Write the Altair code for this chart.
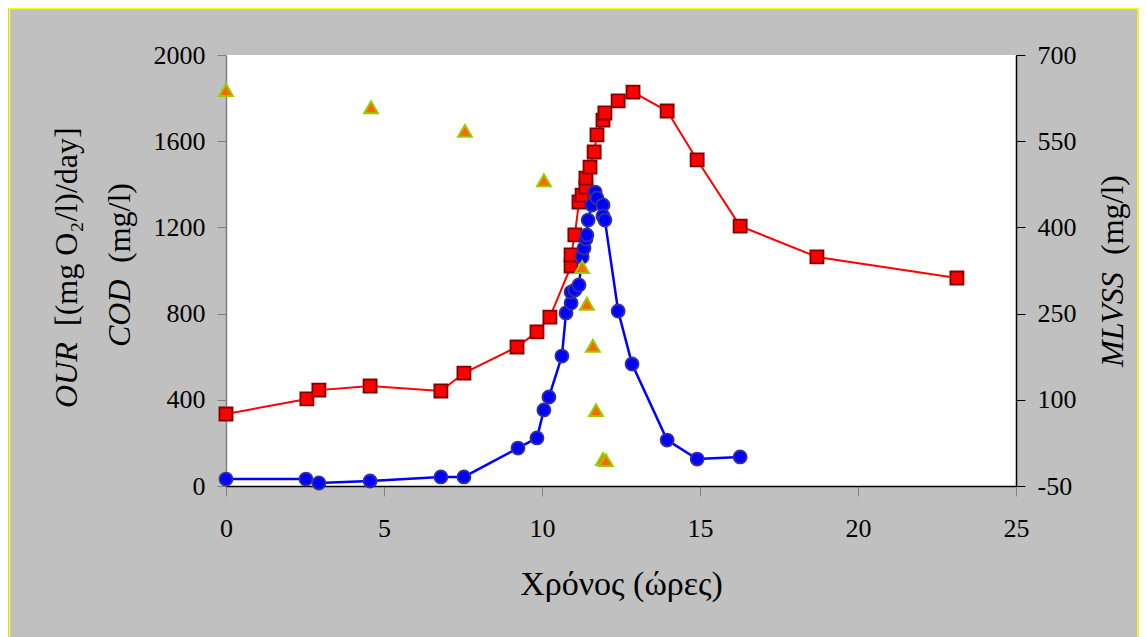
import altair as alt
import pandas as pd

# ---------------- data ----------------
time_cod = [0, 2.56, 2.94, 4.56, 6.80, 7.53, 9.21, 9.84, 10.25, 10.92, 10.92, 11.04,
            11.17, 11.27, 11.39, 11.39, 11.52, 11.65, 11.74, 11.93, 11.99, 12.41,
            12.88, 13.96, 14.91, 16.27, 18.70, 23.13]
cod = [334, 404, 445, 464, 441, 524, 645, 715, 784, 1021, 1072, 1165,
       1318, 1350, 1387, 1429, 1480, 1550, 1629, 1698, 1731, 1787,
       1828, 1740, 1513, 1206, 1063, 965]

time_our = [0, 2.53, 2.94, 4.56, 6.80, 7.53, 9.24, 9.84, 10.06, 10.22, 10.63, 10.76,
            10.92, 10.92, 11.04, 11.17, 11.27, 11.33, 11.39, 11.42, 11.46, 11.58,
            11.68, 11.74, 11.93, 11.93, 11.99, 12.41, 12.85, 13.96, 14.91, 16.27]
our = [32, 32, 14, 23, 42, 42, 176, 223, 353, 413, 603, 803,
       849, 900, 909, 933, 1063, 1104, 1146, 1165, 1234, 1304,
       1364, 1336, 1304, 1253, 1234, 812, 566, 213, 125, 135]

time_mlvss = [0, 4.59, 7.56, 10.06, 11.27, 11.42, 11.61, 11.71, 11.93, 12.02]
mlvss = [639, 609, 568, 482, 331, 267, 194, 82, -3, -5]

x_ticks = [0, 5, 10, 15, 20, 25]
left_ticks = [0, 400, 800, 1200, 1600, 2000]
right_ticks = [-50, 100, 250, 400, 550, 700]

x_title = "Χρόνος (ώρες)"
left_title_our = ["OUR", "[(mg O₂/l)/day]"]
left_title_cod = ["COD", "(mg/l)"]
right_title = ["MLVSS", "(mg/l)"]

FONT = "Liberation Serif"
PLAIN = "datum.value + ''"

df_cod = pd.DataFrame({"t": time_cod, "v": cod, "i": list(range(len(cod)))})
df_our = pd.DataFrame({"t": time_our, "v": our, "i": list(range(len(our)))})
df_ml = pd.DataFrame({"t": time_mlvss, "m": mlvss})

x_enc = alt.X(
    "t:Q",
    scale=alt.Scale(domain=[0, 25], nice=False, zero=False),
    axis=alt.Axis(values=x_ticks, title=x_title, grid=False, orient="bottom",
                  labelExpr=PLAIN, labelFlush=False,
                  labelFont=FONT, labelFontSize=26, labelColor="black",
                  labelPadding=19, tickSize=10, tickColor="#808080",
                  domainColor="black", domainWidth=1.5,
                  titleFont=FONT, titleFontSize=34, titleFontWeight="normal",
                  titleColor="black", titlePadding=26),
)
y_left = alt.Y(
    "v:Q",
    scale=alt.Scale(domain=[0, 2000], nice=False),
    axis=alt.Axis(values=left_ticks, title=None, grid=False, orient="left",
                  labelExpr=PLAIN, labelFlush=False,
                  labelFont=FONT, labelFontSize=26, labelColor="black",
                  labelPadding=12, tickSize=9, tickColor="#808080",
                  domainColor="#808080", domainWidth=1.5),
)
y_right = alt.Y(
    "m:Q",
    scale=alt.Scale(domain=[-50, 700], nice=False, zero=False),
    axis=alt.Axis(values=right_ticks, title=None, grid=False, orient="right",
                  labelExpr=PLAIN, labelFlush=False,
                  labelFont=FONT, labelFontSize=26, labelColor="black",
                  labelPadding=12, tickSize=9, tickColor="black",
                  domainColor="black", domainWidth=1.5),
)

cod_line = alt.Chart(df_cod).mark_line(color="#FF0000", strokeWidth=2).encode(
    x=x_enc, y=y_left, order="i:Q")
cod_pts = alt.Chart(df_cod).mark_point(
    shape="square", size=170, filled=True, fill="#FF0000", stroke="#800000",
    strokeWidth=1.8, opacity=1).encode(x=x_enc, y=y_left)
our_line = alt.Chart(df_our).mark_line(color="#0000FF", strokeWidth=2.5).encode(
    x=x_enc, y=y_left, order="i:Q")
our_pts = alt.Chart(df_our).mark_point(
    shape="circle", size=170, filled=True, fill="#0000FF", stroke="#333399",
    strokeWidth=1.8, opacity=1).encode(x=x_enc, y=y_left)

left = alt.layer(cod_line, cod_pts, our_line, our_pts)

right = alt.Chart(df_ml).mark_point(
    shape="triangle-up", size=190, filled=True, fill="#FF6600", stroke="#99CC00",
    strokeWidth=2, opacity=1).encode(x=x_enc, y=y_right)

one = pd.DataFrame({"k": [0]})


def vtext(txt, px, py, italic):
    return alt.Chart(one).mark_text(
        text=txt, angle=270, align="left", baseline="middle", font=FONT,
        fontSize=32, fontStyle="italic" if italic else "normal", color="black"
    ).encode(x=alt.value(px), y=alt.value(py))


texts = [
    vtext(left_title_our[0], -159, 353, True),
    vtext(left_title_our[1], -159, 271, False),
    vtext(left_title_cod[0], -106, 292, True),
    vtext(left_title_cod[1], -106, 208, False),
    vtext(right_title[0], 887, 312, True),
    vtext(right_title[1], 887, 200, False),
]

border = alt.Chart(one).mark_rect(
    filled=False, fill="transparent", stroke="#FFFF00", strokeWidth=1.5
).encode(x=alt.value(-216.5), x2=alt.value(912), y=alt.value(-46.5), y2=alt.value(640))

chart = alt.layer(left, right, *texts, border).resolve_scale(y="independent").properties(
    width=790, height=431,
    autosize=alt.AutoSizeParams(type="none"),
    padding={"left": 218, "top": 47, "right": 123, "bottom": 162},
    background="#C0C0C0",
).configure_view(fill="white", strokeWidth=0, stroke=None)

chart.save("out.html", embed_options={"renderer": "svg", "actions": False})
